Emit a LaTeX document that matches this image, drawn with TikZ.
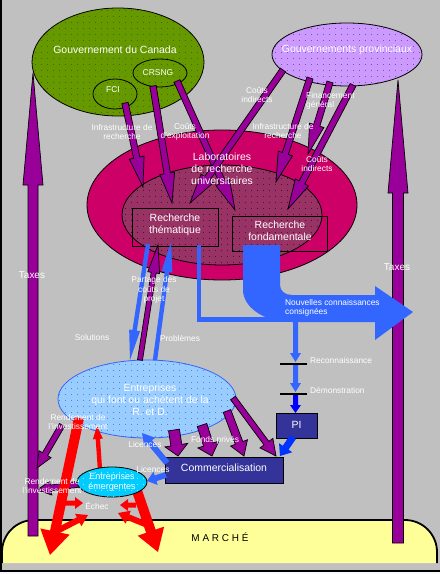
\documentclass[tikz,border=0pt]{standalone}
\usepackage{fontspec}
\setmainfont{Liberation Sans}
\usetikzlibrary{shapes.geometric,calc,patterns.meta}
\definecolor{bg}{HTML}{C0C0C0}
\definecolor{govgreen}{HTML}{669900}
\definecolor{lav}{HTML}{CC99FF}
\definecolor{mag}{HTML}{CC0066}
\definecolor{labin}{HTML}{993366}
\definecolor{entb}{HTML}{99CCFF}
\definecolor{emer}{HTML}{00CCFF}
\definecolor{blu}{HTML}{3366FF}
\definecolor{dblu}{HTML}{0000FF}
\definecolor{piblu}{HTML}{0033FF}
\definecolor{navy}{HTML}{333399}
\definecolor{purp}{HTML}{990099}
\definecolor{yel}{HTML}{FFFF99}
\definecolor{rd}{HTML}{FF0000}
\tikzset{
 lbl/.style={text=white, font=\fontsize{8.4}{9.6}\selectfont, align=center, inner sep=0},
 big/.style={text=white, font=\fontsize{10.5}{11.8}\selectfont, align=center, inner sep=0},
 ell/.style={ellipse, inner sep=0, draw=black, line width=0.8bp},
 parr/.style={fill=purp, draw=black, line width=0.7bp},
 barr/.style={fill=blu},
 rarr/.style={fill=rd},
 dotsp/.style={postaction={pattern={Dots[distance=6bp,radius=0.45bp]}, pattern color=#1}},
}
\newcommand\FA[6]{%
 \path ($(#3)!#6!(#2)$) coordinate (fah);
 \path[#1] ($(#2)!#4!90:(fah)$) -- ($(fah)!#4!-90:(#2)$) -- ($(fah)!#5!-90:(#2)$) -- (#3) -- ($(fah)!#5!90:(#2)$) -- ($(fah)!#4!90:(#2)$) -- ($(#2)!#4!-90:(fah)$) -- cycle;}
\begin{document}
\begin{tikzpicture}[x=1bp,y=-1bp]
\useasboundingbox (0,0) rectangle (440,574);
\fill[bg] (0,0) rectangle (440,574);
\fill[white!90!bg] (0,572) rectangle (440,574);
% market
\path[fill=yel, draw=black, line width=1.8bp, rounded corners=32bp] (2,563) -- (2,520) -- (437,520) -- (437,563);
\node[font=\fontsize{10}{11}\selectfont, inner sep=0] (marche) at (220,537) {M A R C H É};
\draw[line width=1.2bp] (1,0) -- (1,571) -- (440,571);

% governments
\node[ell, fill=govgreen, dotsp=black!55!govgreen, minimum width=172bp, minimum height=108bp] (gov) at (118,62) {};
\node[ell, minimum width=44bp, minimum height=30bp] (fci) at (115,94) {};
\node[ell, minimum width=54bp, minimum height=28bp] (crsng) at (160,73) {};
\node[ell, fill=lav, dotsp=black!75!lav, minimum width=150bp, minimum height=63bp] (prov) at (347,54.5) {};

% laboratories
\node[ell, fill=mag, minimum width=270bp, minimum height=150bp] (lab) at (222,205) {};
\node[ell, fill=labin, dotsp=black, minimum width=200bp, minimum height=100bp] (labin) at (222,215) {};
\node[draw=black, line width=0.8bp, minimum width=86bp, minimum height=38bp, inner sep=0] (them) at (175,227) {};
\node[draw=black, line width=0.8bp, minimum width=95bp, minimum height=35bp, inner sep=0] (fond) at (279.5,233.5) {};

% enterprises etc
\node[ellipse, inner sep=0, draw=blu, line width=0.8bp, fill=entb, dotsp=blu!70!black, minimum width=178bp, minimum height=78bp] (ent) at (147,399) {};
\node[draw=black, line width=0.8bp, fill=navy, minimum width=118bp, minimum height=26bp, inner sep=0] (comm) at (224,470) {};
\node[draw=black, line width=0.8bp, fill=navy, minimum width=41bp, minimum height=25bp, inner sep=0] (pi) at (296.5,425.5) {};

% coordinates for connectors
\coordinate (f1a) at (125,103); \coordinate (f1b) at (143,187);
\coordinate (f2a) at (153,86);  \coordinate (f2b) at (172,203);
\coordinate (f3a) at (177,81);  \coordinate (f3b) at (235,210);
\coordinate (p1a) at (283,70);  \coordinate (p1b) at (190,203);
\coordinate (p2a) at (310,78);  \coordinate (p2b) at (276,182);
\coordinate (p3a) at (330,82);  \coordinate (p3b) at (308,154);
\coordinate (p4a) at (353,85);  \coordinate (p4b) at (288,209);
\coordinate (tla) at (33,536);  \coordinate (tlb) at (33,73);
\coordinate (tra) at (398,543); \coordinate (trb) at (398,80);
\coordinate (sola) at (148,244); \coordinate (solb) at (130,360);
\coordinate (para) at (140,360); \coordinate (parb) at (158,245);
\coordinate (proa) at (155,360); \coordinate (prob) at (171,242);
\coordinate (d1a) at (295.5,322); \coordinate (d1b) at (295.5,362);
\coordinate (d2a) at (295.5,365); \coordinate (d2b) at (295.5,392);
\coordinate (d3a) at (295.5,395); \coordinate (d3b) at (295.5,413);
\coordinate (pca) at (293,437); \coordinate (pcb) at (280,456);
\coordinate (e1a) at (174,430); \coordinate (e1b) at (178,456);
\coordinate (e2a) at (202,425); \coordinate (e2b) at (212,456);
\coordinate (e3a) at (227,411); \coordinate (e3b) at (244,456);
\coordinate (e4a) at (233,398); \coordinate (e4b) at (276,456);
\coordinate (l1a) at (167,463); \coordinate (l1b) at (142,433);
\coordinate (l2a) at (166,475); \coordinate (l2b) at (147,481);
\coordinate (r1a) at (79,418);  \coordinate (r1b) at (50,555);
\coordinate (r2a) at (135,485); \coordinate (r2b) at (158,552);
\coordinate (r3a) at (100,470); \coordinate (r3b) at (97,426);
\coordinate (h1a) at (63,503);  \coordinate (h1b) at (83,503);
\coordinate (g1a) at (55,532);  \coordinate (g1b) at (88,515);
\coordinate (h2a) at (136,505); \coordinate (h2b) at (120,505);
\coordinate (g2a) at (145,524); \coordinate (g2b) at (118,513);
\coordinate (rp1a) at (62,425); \coordinate (rp1b) at (37,468);
\coordinate (rp2a) at (80,484); \coordinate (rp2b) at (37,490);

% taxes
\FA{parr}{tla}{tlb}{5bp}{10bp}{112bp}
\FA{parr}{tra}{trb}{5.5bp}{10bp}{113bp}

% government arrows
\FA{parr}{f1a}{f1b}{3.2bp}{7.5bp}{30bp}
\FA{parr}{f2a}{f2b}{3.2bp}{7.5bp}{30bp}
\FA{parr}{f3a}{f3b}{3.2bp}{7.5bp}{30bp}
\FA{parr}{p1a}{p1b}{3.2bp}{7.5bp}{30bp}
\FA{parr}{p2a}{p2b}{3.2bp}{7.5bp}{30bp}
\FA{parr}{p3a}{p3b}{3.2bp}{7.5bp}{30bp}
\FA{parr}{p4a}{p4b}{3.2bp}{7.5bp}{30bp}

% knowledge flows
\draw[blu, line width=4.5bp] (199,245) |- (292,319.5);
\fill[blu] (243,245) -- (243,290) .. controls (243,306) and (262,322) .. (292,322) -- (375,322) -- (375,340) -- (413,312) -- (375,286) -- (375,295) -- (292,295) .. controls (285,295) and (280,291) .. (280,285) -- (280,245) -- cycle;
\FA{barr}{sola}{solb}{2.2bp}{5.5bp}{30bp}
\FA{parr}{para}{parb}{2.5bp}{6bp}{28bp}
\FA{barr}{proa}{prob}{2.2bp}{5.5bp}{30bp}
\FA{barr}{d1a}{d1b}{2.5bp}{5.5bp}{9bp}
\FA{barr}{d2a}{d2b}{2.5bp}{5.5bp}{9bp}
\FA{fill=dblu}{d3a}{d3b}{2.5bp}{5.5bp}{8bp}
\draw[line width=2bp] (280,363.5) coordinate (bar1a) -- (307,363.5) coordinate (bar1b);
\draw[line width=2bp] (280,394) coordinate (bar2a) -- (307,394) coordinate (bar2b);
\FA{fill=piblu}{pca}{pcb}{3.5bp}{8bp}{10bp}

% enterprises to commercialisation
\FA{parr}{e1a}{e1b}{5.5bp}{11.5bp}{11bp}
\FA{parr}{e2a}{e2b}{5bp}{11bp}{12bp}
\FA{parr}{e3a}{e3b}{4bp}{9bp}{14bp}
\FA{parr}{e4a}{e4b}{3bp}{8bp}{16bp}
\FA{barr}{l1a}{l1b}{3bp}{7bp}{12bp}
\FA{barr}{l2a}{l2b}{3bp}{7bp}{9bp}

% returns and market
\FA{parr}{rp1a}{rp1b}{3bp}{7bp}{16bp}
\FA{parr}{rp2a}{rp2b}{3bp}{7bp}{14bp}
\FA{rarr}{r1a}{r1b}{5bp}{15bp}{24bp}
\FA{rarr}{r2a}{r2b}{5bp}{14bp}{22bp}
\FA{rarr}{r3a}{r3b}{2.2bp}{5bp}{13bp}
\FA{rarr}{h1a}{h1b}{2.5bp}{6bp}{8bp}
\FA{rarr}{g1a}{g1b}{3bp}{7bp}{11bp}
\FA{rarr}{h2a}{h2b}{2.5bp}{6bp}{8bp}
\FA{rarr}{g2a}{g2b}{3bp}{7bp}{11bp}
\node[ell, fill=emer, dotsp=white, minimum width=70bp, minimum height=30bp] (emg) at (112,482) {};

% titles
\node[big] (govt) at (115,50) {Gouvernement du Canada};
\node[big, font=\fontsize{8.5}{9.5}\selectfont] (fcit) at (113,90) {FCI};
\node[big, font=\fontsize{8.5}{9.5}\selectfont] (crsngt) at (158,73) {CRSNG};
\node[big] (provt) at (347,50) {Gouvernements provinciaux};
\node[big] (labt) at (222,169) {Laboratoires\\de recherche\\universitaires};
\node[big] (themt) at (175,225) {Recherche\\thématique};
\node[big] (fondt) at (280,231) {Recherche\\fondamentale};
\node[big, font=\fontsize{10.5}{12.2}\selectfont] (entt) at (150,400) {Entreprises\\qui font ou achètent de la\\R. et D.};
\node[big, font=\fontsize{9}{10}\selectfont] (emgt) at (112,482) {Entreprises\\émergentes};
\node[big] (commt) at (224,468) {Commercialisation};
\node[big] (pit) at (296.5,425) {PI};
\node[big, font=\fontsize{10}{11}\selectfont] (taxl) at (32,275) {Taxes};
\node[big, font=\fontsize{10}{11}\selectfont] (taxr) at (397,267) {Taxes};

% labels
\node[lbl] (lf1) at (122,132) {Infrastructure de\\recherche};
\node[lbl] (lf2) at (185,132) {Coûts\\d'exploitation};
\node[lbl] (lp1) at (257,95) {Coûts\\indirects};
\node[lbl] (lp2) at (283,131) {Infrastructure de\\recherche};
\node[lbl, anchor=west, align=left] (lp3) at (306,101) {Financement\\général};
\node[lbl] (lp4) at (317,164) {Coûts\\indirects};
\node[lbl] (lpar) at (154,290) {Partage des\\coûts de\\projet};
\node[lbl] (lsol) at (92,338) {Solutions};
\node[lbl] (lpro) at (180,338) {Problèmes};
\node[lbl, anchor=west, align=left] (lnou) at (285,308) {Nouvelles connaissances\\consignées};
\node[lbl, anchor=west] (lrec) at (310,361) {Reconnaissance};
\node[lbl, anchor=west] (ldem) at (310,390) {Démonstration};
\node[lbl] (llic1) at (145,445) {Licences};
\node[lbl] (llic2) at (153,470) {Licences};
\node[lbl] (lfon) at (215,440) {Fonds privés};
\node[lbl] (lren1) at (78,422) {Rendement de\\l'investissement};
\node[lbl] (lren2) at (52,486) {Rendement de\\l'investissement};
\node[lbl] (lech) at (97,506) {Échec};
\end{tikzpicture}
\end{document}
